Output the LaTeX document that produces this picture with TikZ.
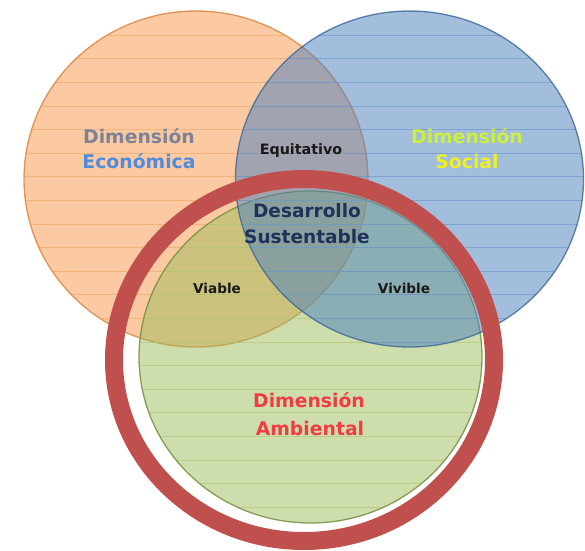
\documentclass[tikz,border=0pt]{standalone}
\usepackage{fontspec}
\setmainfont{DejaVu Sans}
\definecolor{orC}{HTML}{F79646}
\definecolor{orB}{HTML}{D9803A}
\definecolor{orL}{HTML}{F6A868}
\definecolor{blC}{HTML}{4F81BD}
\definecolor{blB}{HTML}{3A6599}
\definecolor{blL}{HTML}{6F98CC}
\definecolor{grC}{HTML}{9BBB59}
\definecolor{grB}{HTML}{6E8A35}
\definecolor{grL}{HTML}{AFC97A}
\definecolor{ringC}{HTML}{C0504D}
\definecolor{ecoA}{RGB}{125,130,150}
\definecolor{ecoB}{RGB}{80,140,220}
\definecolor{socA}{RGB}{205,240,60}
\definecolor{socB}{RGB}{240,240,30}
\definecolor{ambC}{RGB}{240,60,70}
\definecolor{desC}{RGB}{30,50,90}
\definecolor{smallC}{RGB}{25,25,25}
\begin{document}
\begin{tikzpicture}[x=1pt,y=-1pt,
  bigtxt/.style={anchor=base,inner sep=0pt,font=\bfseries\fontsize{18.8}{22}\selectfont},
  midtxt/.style={anchor=base,inner sep=0pt,font=\bfseries\fontsize{18.5}{22}\selectfont,text=desC},
  smalltxt/.style={anchor=base,inner sep=0pt,font=\bfseries\fontsize{13.6}{16}\selectfont,text=smallC},
  hatchline/.style={line width=0.8pt},
  rim/.style={line width=1.3pt}]
\useasboundingbox (0,0) rectangle (585,550);
% orange circle
\fill[orC,fill opacity=0.5] (196,179) ellipse [x radius=172pt, y radius=168pt];
\begin{scope}
\clip (196,179) ellipse [x radius=172pt, y radius=168pt];
\foreach \k in {0,...,22} \draw[hatchline,orL,opacity=0.7] (0,11.6+23.6*\k) -- (585,11.6+23.6*\k);
\end{scope}
\draw[rim,orB,opacity=0.8] (196,179) ellipse [x radius=172pt, y radius=168pt];
% green circle
\fill[grC,fill opacity=0.5] (310.5,357) ellipse [x radius=171.5pt, y radius=166pt];
\begin{scope}
\clip (310.5,357) ellipse [x radius=171.5pt, y radius=166pt];
\foreach \k in {0,...,22} \draw[hatchline,grL,opacity=0.7] (0,11.6+23.6*\k) -- (585,11.6+23.6*\k);
\end{scope}
\draw[rim,grB,opacity=0.8] (310.5,357) ellipse [x radius=171.5pt, y radius=166pt];
% blue circle
\fill[blC,fill opacity=0.52] (409.5,179) ellipse [x radius=174pt, y radius=168pt];
\begin{scope}
\clip (409.5,179) ellipse [x radius=174pt, y radius=168pt];
\foreach \k in {0,...,22} \draw[hatchline,blL,opacity=0.7] (0,11.6+23.6*\k) -- (585,11.6+23.6*\k);
\end{scope}
\draw[rim,blB,opacity=0.8] (409.5,179) ellipse [x radius=174pt, y radius=168pt];
% red ring
\draw[ringC,line width=18pt] (304,360) ellipse [x radius=190pt, y radius=181pt];
% labels
\node[bigtxt,text=ecoA] (eco1) at (139,143) {Dimensión};
\node[bigtxt,text=ecoB] (eco2) at (139,168) {Económica};
\node[bigtxt,text=socA] (soc1) at (467,143) {Dimensión};
\node[bigtxt,text=socB] (soc2) at (467,168) {Social};
\node[smalltxt,font=\bfseries\fontsize{14.3}{16}\selectfont] (equi) at (301,154) {Equitativo};
\node[midtxt] (des1) at (307,217) {Desarrollo};
\node[midtxt] (des2) at (307,243) {Sustentable};
\node[smalltxt] (viab) at (217,293) {Viable};
\node[smalltxt] (vivi) at (404,293) {Vivible};
\node[bigtxt,text=ambC] (amb1) at (309,407) {Dimensión};
\node[bigtxt,text=ambC] (amb2) at (310,435) {Ambiental};
\end{tikzpicture}
\end{document}
